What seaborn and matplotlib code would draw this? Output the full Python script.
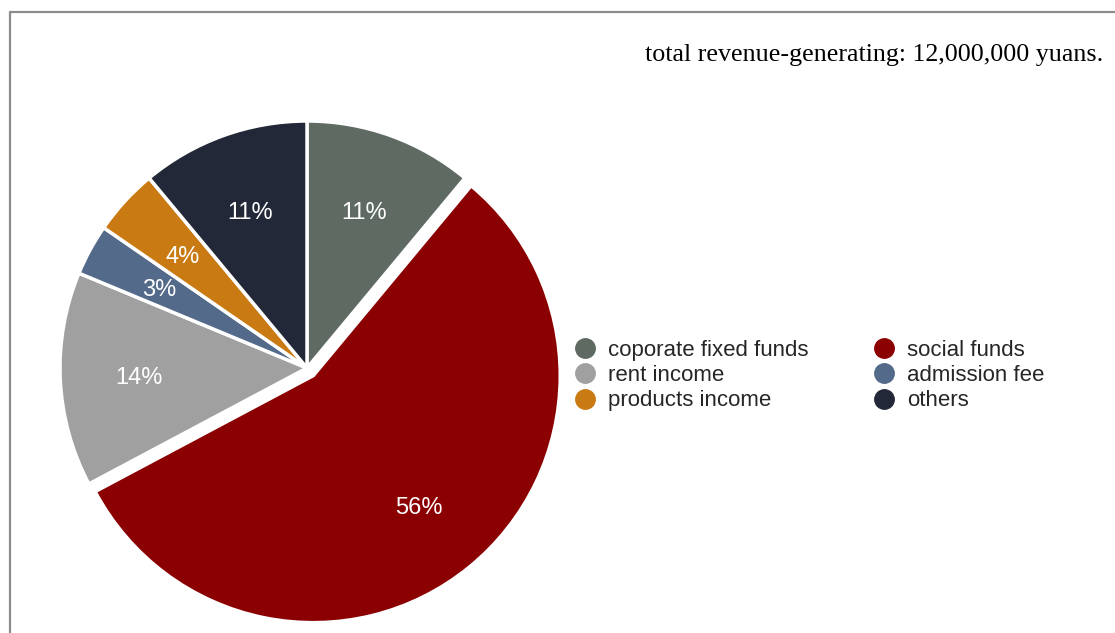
import matplotlib
matplotlib.use("Agg")
import matplotlib.pyplot as plt
from matplotlib.lines import Line2D
import seaborn as sns

# ===================== DATA =====================
# amounts in 10,000 yuan (total shown as 12,000,000 yuans)
categories = ["coporate fixed funds", "social funds", "rent income",
              "admission fee", "products income", "others"]
amounts = [132, 672, 168, 40, 52, 132]
colors = ["#5f6a63", "#8b0000", "#a0a0a0", "#546a8a", "#c97a12", "#222838"]
explode = [0, 0.04, 0, 0, 0, 0]
title_text = "total revenue-generating: 12,000,000 yuans."

# ===================== STYLE =====================
sns.set_theme(style="white")
plt.rcParams["font.family"] = ["Liberation Sans", "DejaVu Sans"]

W, H = 1115, 633
fig = plt.figure(figsize=(W / 100, H / 100), dpi=100)

# pie axes: centre ~ (307, 368) px, radius ~ 247 px
cx, cy, r = 307, 368, 247
lim = 1.1
ax = fig.add_axes([(cx - lim * r) / W, (H - cy - lim * r) / H,
                   2 * lim * r / W, 2 * lim * r / H])

wedges, texts, autotexts = ax.pie(
    amounts,
    colors=colors,
    explode=explode,
    startangle=90,
    counterclock=False,
    autopct=lambda p: f"{p:.0f}%",
    pctdistance=0.68,
    wedgeprops=dict(edgecolor="white", linewidth=2.5),
    textprops=dict(color="white", fontsize=17),
)
# labels sit a touch lower in the original
for t in autotexts:
    x, y = t.get_position()
    t.set_position((x, y - 0.01))
ax.set_xlim(-lim, lim)
ax.set_ylim(-lim, lim)
ax.axis("off")

# ===================== LEGEND =====================
order = [0, 2, 4, 1, 3, 5]  # row-wise reading in 2 columns
handles = [Line2D([0], [0], marker="o", linestyle="", markersize=14,
                  markerfacecolor=colors[i], markeredgecolor=colors[i])
           for i in order]
labels = [categories[i] for i in order]
fig.legend(handles, labels, ncol=2, frameon=False,
           loc="center left", bbox_to_anchor=(573.9 / W, 1 - 375.5 / H),
           borderaxespad=0, borderpad=0, handlelength=1.0,
           handletextpad=0.535, columnspacing=2.9, labelspacing=0.2,
           fontsize=16)

# ===================== TITLE =====================
fig.text(1103 / W, 1 - 55 / H, title_text, ha="right", va="center",
         fontsize=18.7, family="Liberation Serif", color="black")

# screenshot frame (top and left edges)
border = "#8c8c8c"
fig.add_artist(Line2D([10 / W, 10 / W], [0, 1 - 12 / H], color=border,
                      linewidth=1.6, transform=fig.transFigure))
fig.add_artist(Line2D([10 / W, 1], [1 - 12 / H, 1 - 12 / H], color=border,
                      linewidth=1.6, transform=fig.transFigure))

fig.savefig("out.png", dpi=100)
